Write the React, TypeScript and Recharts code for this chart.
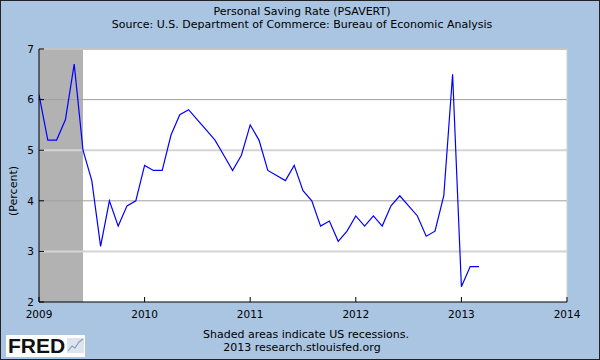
import { LineChart, Line, XAxis, YAxis, ReferenceArea, ReferenceLine } from "recharts";

const title = "Personal Saving Rate (PSAVERT)";
const source = "Source: U.S. Department of Commerce: Bureau of Economic Analysis";
const footnote = "Shaded areas indicate US recessions.";
const credit = "2013 research.stlouisfed.org";
const yLabel = "(Percent)";

// monthly values, Jan 2009 .. Mar 2013
const startYear = 2009;
const rate2009 = [6.1, 5.2, 5.2, 5.6, 6.7, 5.0, 4.4, 3.1, 4.0, 3.5, 3.9, 4.0];
const rate2010 = [4.7, 4.6, 4.6, 5.3, 5.7, 5.8, 5.6, 5.4, 5.2, 4.9, 4.6, 4.9];
const rate2011 = [5.5, 5.2, 4.6, 4.5, 4.4, 4.7, 4.2, 4.0, 3.5, 3.6, 3.2, 3.4];
const rate2012 = [3.7, 3.5, 3.7, 3.5, 3.9, 4.1, 3.9, 3.7, 3.3, 3.4, 4.1, 6.5];
const rate2013 = [2.3, 2.7, 2.7];

const xTicks = [2009, 2010, 2011, 2012, 2013, 2014];
const yTicks = [2, 3, 4, 5, 6, 7];
// recession shading: Jan 2009 - Jun 2009
const recessionStart = 2009;
const recessionEnd = 2009 + 5 / 12;

const monthly = [...rate2009, ...rate2010, ...rate2011, ...rate2012, ...rate2013];
const data = monthly.map((v, i) => ({ t: startYear + i / 12, rate: v }));

const font = "DejaVu Sans";

export default function App() {
  return (
    <div
      style={{
        position: "absolute",
        left: 0,
        top: 0,
        width: 600,
        height: 360,
        background: "#a9c5e2",
        fontFamily: font,
      }}
    >
      <LineChart
        width={600}
        height={360}
        data={data}
        margin={{ top: 49, right: 33, bottom: 28, left: 0 }}
      >
        <XAxis
          dataKey="t"
          type="number"
          domain={[2009, 2014]}
          ticks={xTicks}
          allowDataOverflow
          height={30}
          axisLine={{ stroke: "#000" }}
          tickLine={{ stroke: "#000" }}
          tickSize={-5}
          tickMargin={14}
          tick={{ fill: "#000", fontSize: 10.5, fontFamily: font }}
        />
        <YAxis
          type="number"
          domain={[2, 7]}
          ticks={yTicks}
          width={39}
          axisLine={{ stroke: "#000" }}
          tickLine={{ stroke: "#000" }}
          tickSize={-5}
          tickMargin={10}
          tick={{ fill: "#000", fontSize: 10.5, fontFamily: font }}
        />
        <ReferenceArea x1={2009} x2={2014} y1={2} y2={7} fill="#fff" fillOpacity={1} stroke="none" />
        <ReferenceLine y={6} stroke="#a0a0a0" />
        <ReferenceLine y={4} stroke="#a0a0a0" />
        <ReferenceLine y={5} stroke="#d4d4d4" strokeWidth={2} />
        <ReferenceLine y={3} stroke="#d4d4d4" strokeWidth={2} />
        <ReferenceLine y={7} stroke="#c4c4c4" strokeWidth={2} />
        <ReferenceLine x={2014} stroke="#d0d0d0" />
        <ReferenceArea
          x1={recessionStart}
          x2={recessionEnd}
          y1={2}
          y2={7}
          fill="#b2b2b2"
          fillOpacity={1}
          stroke="none"
        />
        <Line
          dataKey="rate"
          stroke="#0000ff"
          strokeWidth={1.2}
          dot={false}
          isAnimationActive={false}
        />
      </LineChart>
      <svg
        width={600}
        height={360}
        style={{ position: "absolute", left: 0, top: 0, pointerEvents: "none" }}
        fontFamily={font}
      >
        <text x={302} y={15} textAnchor="middle" fontSize={11} fill="#000">
          {title}
        </text>
        <text x={302} y={28} textAnchor="middle" fontSize={11} fill="#000">
          {source}
        </text>
        <text
          x={16.5}
          y={191}
          textAnchor="middle"
          fontSize={11}
          fill="#000"
          transform="rotate(-90 16.5 191)"
        >
          {yLabel}
        </text>
        <text x={306} y={338} textAnchor="middle" fontSize={11} fill="#000">
          {footnote}
        </text>
        <text x={302} y={351} textAnchor="middle" fontSize={11} fill="#000">
          {credit}
        </text>
        <rect x={6} y={335} width={79} height={22} fill="#fff" />
        <text
          x={8}
          y={353}
          fontSize={21}
          fontWeight={900}
          fontFamily="Liberation Sans"
          fill="#111"
        >
          FRED
        </text>
        <rect x={67} y={338} width={17} height={15} fill="#dde4ee" />
        <polyline
          points="68,351 72,346 75,348 79,342 83,339"
          fill="none"
          stroke="#8aa0c0"
          strokeWidth={1.2}
        />
        <rect x={0.5} y={0.5} width={599} height={359} fill="none" stroke="#222" />
      </svg>
    </div>
  );
}
